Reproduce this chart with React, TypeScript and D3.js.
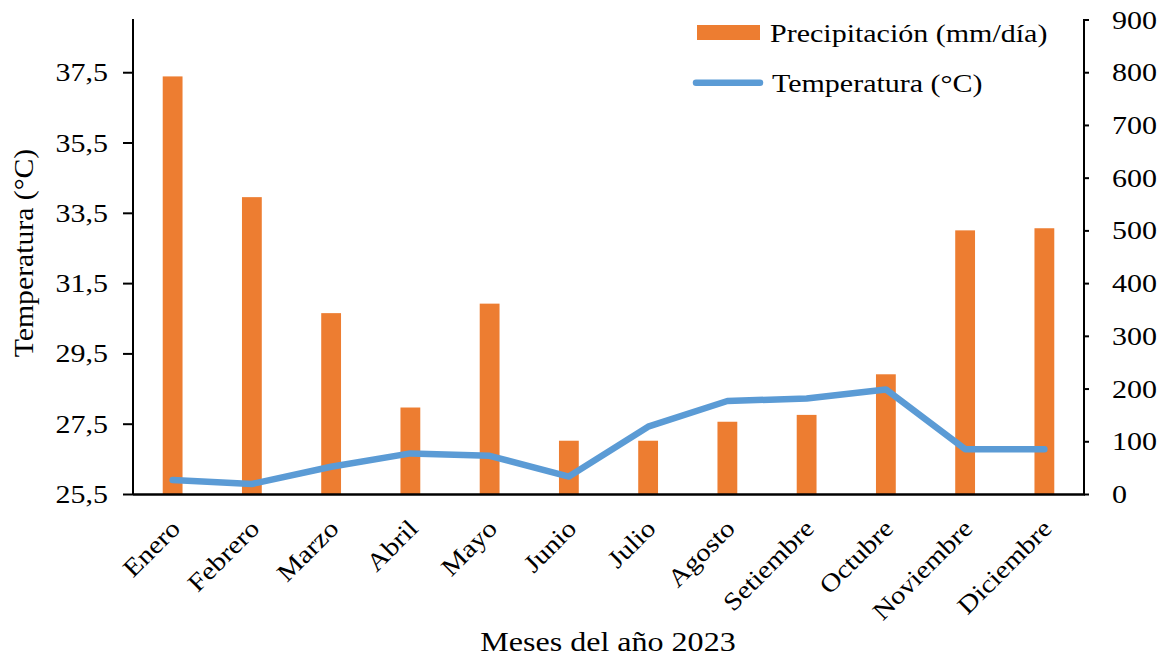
import React from 'react'
import * as d3 from 'd3'

const months = [
  'Enero', 'Febrero', 'Marzo', 'Abril', 'Mayo', 'Junio',
  'Julio', 'Agosto', 'Setiembre', 'Octubre', 'Noviembre', 'Diciembre'
]
// precipitation, right axis
const precipitation = [793, 564, 344, 165, 362, 102, 102, 138, 151, 228, 501, 505]
// temperature, left axis
const temperature = [25.91, 25.8, 26.29, 26.67, 26.6, 26.01, 27.43, 28.16, 28.23, 28.49, 26.79, 26.79]

const tempTicks = [25.5, 27.5, 29.5, 31.5, 33.5, 35.5, 37.5]
const precipTicks = [0, 100, 200, 300, 400, 500, 600, 700, 800, 900]

const W = 1166
const H = 659
const FONT = '"Liberation Serif", "Times New Roman", serif'
const ORANGE = '#ED7D31'
const BLUE = '#5B9BD5'

const plot = { left: 133, right: 1084, top: 20, bottom: 494.5 }

// text stretched along its own direction (the source has wide letter spacing)
const Label = ({ x, y, rotate = 0, sx = 1.2, size = 25, anchor = 'start', dy = 0, children }) => (
  <g transform={`translate(${x},${y}) rotate(${rotate}) scale(${sx},1)`}>
    <text textAnchor={anchor} dy={dy} fontSize={size} fontFamily={FONT} fill="#000">
      {children}
    </text>
  </g>
)

export default function App() {
  const x = d3
    .scaleBand()
    .domain(months)
    .range([plot.left, plot.right])
    .paddingInner(0.75)
    .paddingOuter(0.375)

  const yTemp = d3.scaleLinear().domain([25.5, 39]).range([plot.bottom, plot.top])
  const yPrecip = d3.scaleLinear().domain([0, 900]).range([plot.bottom, plot.top])

  const bw = x.bandwidth()
  const cx = (m) => x(m) + bw / 2

  const line = d3
    .line()
    .x((d, i) => cx(months[i]))
    .y((d) => yTemp(d))

  const fmt = (v) => d3.format('.1f')(v).replace('.', ',')

  return (
    <svg width={W} height={H} style={{ position: 'absolute', left: 0, top: 0, background: '#fff' }}>
      {/* bars */}
      {precipitation.map((v, i) => (
        <rect
          key={months[i]}
          x={x(months[i])}
          y={yPrecip(v)}
          width={bw}
          height={plot.bottom - yPrecip(v)}
          fill={ORANGE}
        />
      ))}

      {/* temperature line */}
      <path
        d={line(temperature)}
        fill="none"
        stroke={BLUE}
        strokeWidth={6.5}
        strokeLinecap="round"
        strokeLinejoin="round"
      />

      {/* axes */}
      <line x1={plot.left} x2={plot.left} y1={plot.top - 1} y2={plot.bottom} stroke="#000" strokeWidth={2} />
      <line x1={plot.right} x2={plot.right} y1={plot.top - 1} y2={plot.bottom} stroke="#000" strokeWidth={2} />
      <line x1={plot.left} x2={plot.right + 1} y1={plot.bottom} y2={plot.bottom} stroke="#000" strokeWidth={2.5} />

      {tempTicks.map((t) => (
        <g key={'l' + t}>
          <line x1={plot.left - 10} x2={plot.left} y1={yTemp(t)} y2={yTemp(t)} stroke="#000" strokeWidth={2} />
          <Label x={108} y={yTemp(t)} anchor="end" dy="0.34em">
            {fmt(t)}
          </Label>
        </g>
      ))}

      {precipTicks.map((t) => (
        <g key={'r' + t}>
          <line x1={plot.right} x2={plot.right + 5} y1={yPrecip(t)} y2={yPrecip(t)} stroke="#000" strokeWidth={2} />
          <Label x={1112} y={yPrecip(t)} anchor="start" dy="0.34em">
            {t}
          </Label>
        </g>
      ))}

      {months.map((m) => (
        <Label key={'m' + m} x={cx(m) + 9} y={530} rotate={-45} sx={1.15} anchor="end">
          {m}
        </Label>
      ))}

      {/* axis titles */}
      <Label x={33} y={253} rotate={-90} sx={1.1} size={27} anchor="middle">
        Temperatura (°C)
      </Label>
      <Label x={608} y={651} sx={1.145} size={28} anchor="middle">
        Meses del año 2023
      </Label>

      {/* legend */}
      <rect x={697} y={25} width={63} height={15} fill={ORANGE} />
      <Label x={770} y={41.7}>Precipitación (mm/día)</Label>
      <line x1={696} x2={760} y1={82.7} y2={82.7} stroke={BLUE} strokeWidth={6.5} strokeLinecap="round" />
      <Label x={772} y={91.7}>Temperatura (°C)</Label>
    </svg>
  )
}
